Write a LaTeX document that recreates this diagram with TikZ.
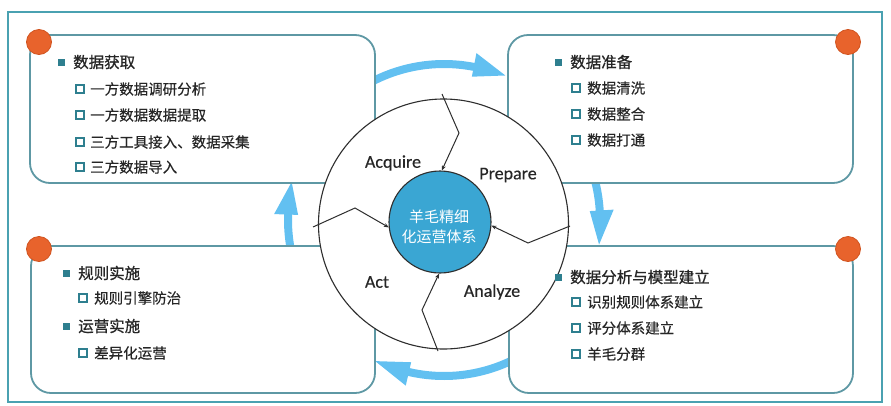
\documentclass[tikz,border=0pt]{standalone}
\usepackage{fontspec}
\newfontfamily\cjk[FakeBold=0.4]{Noto Sans CJK SC}
\newfontfamily\cjkw{Noto Sans CJK SC}
\newfontfamily\cjkh[FakeBold=0.9]{Noto Sans CJK SC}
\newfontfamily\lat[FakeBold=0.3]{Carlito}
\usetikzlibrary{arrows.meta}
\definecolor{frameteal}{HTML}{4AA1B1}
\definecolor{boxteal}{HTML}{5E98A4}
\definecolor{bullteal}{HTML}{2E7F8F}
\definecolor{orangedot}{HTML}{E8632C}
\definecolor{orangeedge}{HTML}{D0531F}
\definecolor{hubblue}{HTML}{3AA6D3}
\definecolor{arrowblue}{HTML}{62C0F1}
\definecolor{txt}{HTML}{262626}
\definecolor{ringgray}{HTML}{2E2E2E}
\newcommand\cyclearrow[3]{%
  \fill[arrowblue] plot[domain=#1:#2,samples=40] ({444+160*cos(\x)},{220+160*sin(\x)})
   -- ({444+170*cos(#2)},{220+170*sin(#2)})
   -- ({444+157*cos(#3)},{220+157*sin(#3)})
   -- ({444+146*cos(#2)},{220+146*sin(#2)})
   -- plot[domain=#2:#1,samples=40] ({444+152*cos(\x)},{220+152*sin(\x)}) -- cycle;}
\tikzset{
  panel/.style={draw=boxteal, line width=1.8pt, fill=white, rounded corners=20pt, inner sep=0},
  dot/.style={circle, fill=orangedot, draw=orangeedge, line width=0.8pt, minimum size=25pt, inner sep=0},
  head/.style={anchor=west, inner sep=0, text=txt, font=\cjkh\fontsize{15.5}{18}\selectfont},
  sub/.style={anchor=west, inner sep=0, text=txt, font=\cjk\fontsize{14.5}{17}\selectfont},
  hbul/.style={fill=bullteal, minimum size=7pt, inner sep=0},
  sbul/.style={draw=bullteal, line width=1.4pt, fill=white, minimum size=8pt, inner sep=0},
  phase/.style={text=txt, inner sep=0, font=\lat\fontsize{18}{20}\selectfont},
  zig/.style={draw=ringgray, line width=1pt, -{Stealth[length=5pt,width=4pt]}},
}
\begin{document}
\begin{tikzpicture}[x=1pt,y=-1pt]
\useasboundingbox (0,0) rectangle (891,405);
\draw[frameteal, line width=2.4pt] (8,12) rectangle (882,402);
% cycle arrows
\cyclearrow{-125}{-79}{-67}
\cyclearrow{-20}{-3.5}{9}
\cyclearrow{60}{103}{116}
\cyclearrow{160}{182}{194}
% panels
\node[panel, minimum width=345pt, minimum height=148pt] (acq) at (202.5,109) {};
\node[panel, minimum width=345pt, minimum height=148pt] (prep) at (680.5,109) {};
\node[panel, minimum width=344pt, minimum height=147pt] (act) at (203,319.5) {};
\node[panel, minimum width=344pt, minimum height=147pt] (ana) at (681,319.5) {};
\node[dot] (d1) at (39,42) {};
\node[dot] (d2) at (848,42) {};
\node[dot] (d3) at (39,249) {};
\node[dot] (d4) at (848,249) {};
% ring and hub
\node[circle, draw=ringgray, line width=1.1pt, fill=white, minimum size=250pt, inner sep=0] (ring) at (443.5,224) {};
\node[circle, draw=ringgray, line width=1.1pt, fill=hubblue, minimum size=102pt, inner sep=0] (hub) at (440,222) {};
\node[text=white, align=center, inner sep=0, font=\cjkw\fontsize{15}{20}\selectfont] (hubtxt) at (439,227) {羊毛精细\\化运营体系};
\coordinate (zt0) at (442,94);  \coordinate (zt1) at (459,133);
\coordinate (zl0) at (313,227); \coordinate (zl1) at (355,208);
\coordinate (zr0) at (570,226); \coordinate (zr1) at (528,243);
\coordinate (zb0) at (438,351); \coordinate (zb1) at (422,310);
\draw[zig] (zt0) -- (zt1) -- (hub.88);
\draw[zig] (zl0) -- (zl1) -- (hub.186);
\draw[zig] (zr0) -- (zr1) -- (hub.-4);
\draw[zig] (zb0) -- (zb1) -- (hub.269);
\node[phase] (pa) at (393,163) {Acquire};
\node[phase] (pp) at (508,175) {Prepare};
\node[phase] (pc) at (377,282) {Act};
\node[phase] (pz) at (492,292) {Analyze};
% top-left texts
\node[hbul] (b1) at (61,62) {};
\node[head] (h1) at (73,62) {数据获取};
\node[sbul] (s11) at (80,89) {};  \node[sub] (t11) at (90,89) {一方数据调研分析};
\node[sbul] (s12) at (80,115) {}; \node[sub] (t12) at (90,115) {一方数据数据提取};
\node[sbul] (s13) at (80,142) {}; \node[sub] (t13) at (90,142) {三方工具接入、数据采集};
\node[sbul] (s14) at (80,167) {}; \node[sub] (t14) at (90,167) {三方数据导入};
% top-right texts
\node[hbul] (b2) at (558,62) {};
\node[head] (h2) at (570,62) {数据准备};
\node[sbul] (s21) at (576,88) {};  \node[sub] (t21) at (587,88) {数据清洗};
\node[sbul] (s22) at (576,114) {}; \node[sub] (t22) at (587,114) {数据整合};
\node[sbul] (s23) at (576,140) {}; \node[sub] (t23) at (587,140) {数据打通};
% bottom-left texts
\node[hbul] (b3) at (66,273) {};
\node[head] (h3) at (78,273) {规则实施};
\node[sbul] (s31) at (83,298) {}; \node[sub] (t31) at (94,298) {规则引擎防治};
\node[hbul] (b4) at (66,326) {};
\node[head] (h4) at (78,326) {运营实施};
\node[sbul] (s41) at (83,353) {}; \node[sub] (t41) at (94,353) {差异化运营};
% bottom-right texts
\node[hbul] (b5) at (558,277) {};
\node[head] (h5) at (570,277) {数据分析与模型建立};
\node[sbul] (s51) at (576,302) {}; \node[sub] (t51) at (587,302) {识别规则体系建立};
\node[sbul] (s52) at (576,328) {}; \node[sub] (t52) at (587,328) {评分体系建立};
\node[sbul] (s53) at (576,354) {}; \node[sub] (t53) at (587,354) {羊毛分群};
\end{tikzpicture}
\end{document}
